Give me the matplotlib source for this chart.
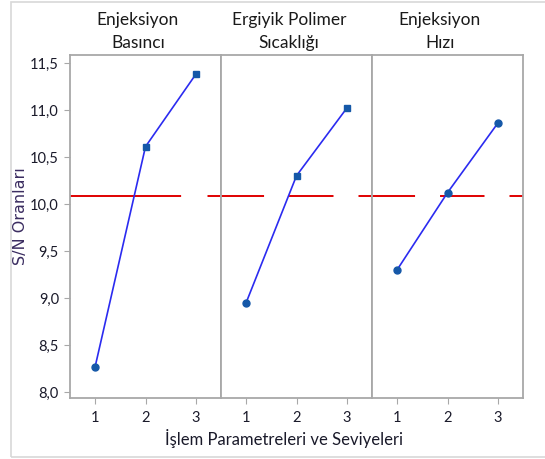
import matplotlib.pyplot as plt
import matplotlib.patches as patches

# Main effects plot for S/N ratios (three process parameters, three levels each)
panel_titles = ["Enjeksiyon\nBasıncı", "Ergiyik Polimer\nSıcaklığı", "Enjeksiyon\nHızı"]
levels = [1, 2, 3]
sn_basinc = [8.27, 10.61, 11.38]
sn_sicaklik = [8.95, 10.30, 11.02]
sn_hiz = [9.30, 10.12, 10.86]
sn_mean = 10.08
y_ticks = [8.0, 8.5, 9.0, 9.5, 10.0, 10.5, 11.0, 11.5]
y_tick_labels = ["8,0", "8,5", "9,0", "9,5", "10,0", "10,5", "11,0", "11,5"]

plt.rcParams["font.family"] = ["Lato", "DejaVu Sans"]
plt.rcParams["lines.scale_dashes"] = False

fig = plt.figure(figsize=(5.45, 4.59), dpi=100)

# light frame around the whole picture
fig.patches.append(patches.Rectangle((11 / 545, 1 - 457 / 459), 1, 455 / 459,
                                     transform=fig.transFigure, fill=False,
                                     edgecolor="#d8d8d8", linewidth=1.2))

left, bottom, width, height = 70 / 545, 1 - 398 / 459, 151 / 545, 343 / 459
series = [sn_basinc, sn_sicaklik, sn_hiz]
markers = [["o", "s", "s"], ["o", "s", "s"], ["o", "o", "o"]]
red_dashes = [(0, (80, 19)), (0, (31, 18, 32, 18)), (0, (31, 18, 32, 18))]

axes = []
for i in range(3):
    ax = fig.add_axes([left + i * width, bottom, width, height])
    axes.append(ax)

    ax.axhline(sn_mean, color="#e00000", linewidth=1.4, linestyle=red_dashes[i], zorder=1)
    ax.plot(levels, series[i], color="#2b2bf0", linewidth=1.2, zorder=2)
    for x, y, m in zip(levels, series[i], markers[i]):
        ax.plot(x, y, marker=m, markersize=5, color="#1558a8", linestyle="none", zorder=3)

    ax.set_xlim(0.5, 3.5)
    ax.set_ylim(7.935, 11.585)
    ax.set_xticks(levels)
    ax.set_xticklabels([str(v) for v in levels])

    for spine in ax.spines.values():
        spine.set_color("#a8a8a8")
        spine.set_linewidth(1.3)

    ax.tick_params(axis="x", direction="out", length=4, color="#a8a8a8",
                   labelsize=10.5, labelcolor="#1a1a2a", pad=5)
    if i == 0:
        ax.set_yticks(y_ticks)
        ax.set_yticklabels(y_tick_labels)
        ax.tick_params(axis="y", direction="out", length=4, color="#a8a8a8",
                       labelsize=10.5, labelcolor="#1a1a2a", pad=4)
    else:
        ax.set_yticks([])

    ax.text(0.45, 1.012, panel_titles[i], transform=ax.transAxes, ha="center",
            va="bottom", fontsize=12.5, color="#1a1a1a", linespacing=1.5)

fig.text(0.038, 1 - 216 / 459, "S/N Oranları", rotation=90, ha="center", va="center",
         fontsize=11.5, color="#3a2c60", family="DejaVu Sans")
fig.text(284 / 545, 1 - 438 / 459, "İşlem Parametreleri ve Seviyeleri", ha="center",
         va="center", fontsize=12, color="#1a1a2a")

fig.savefig("out.png", dpi=100)
